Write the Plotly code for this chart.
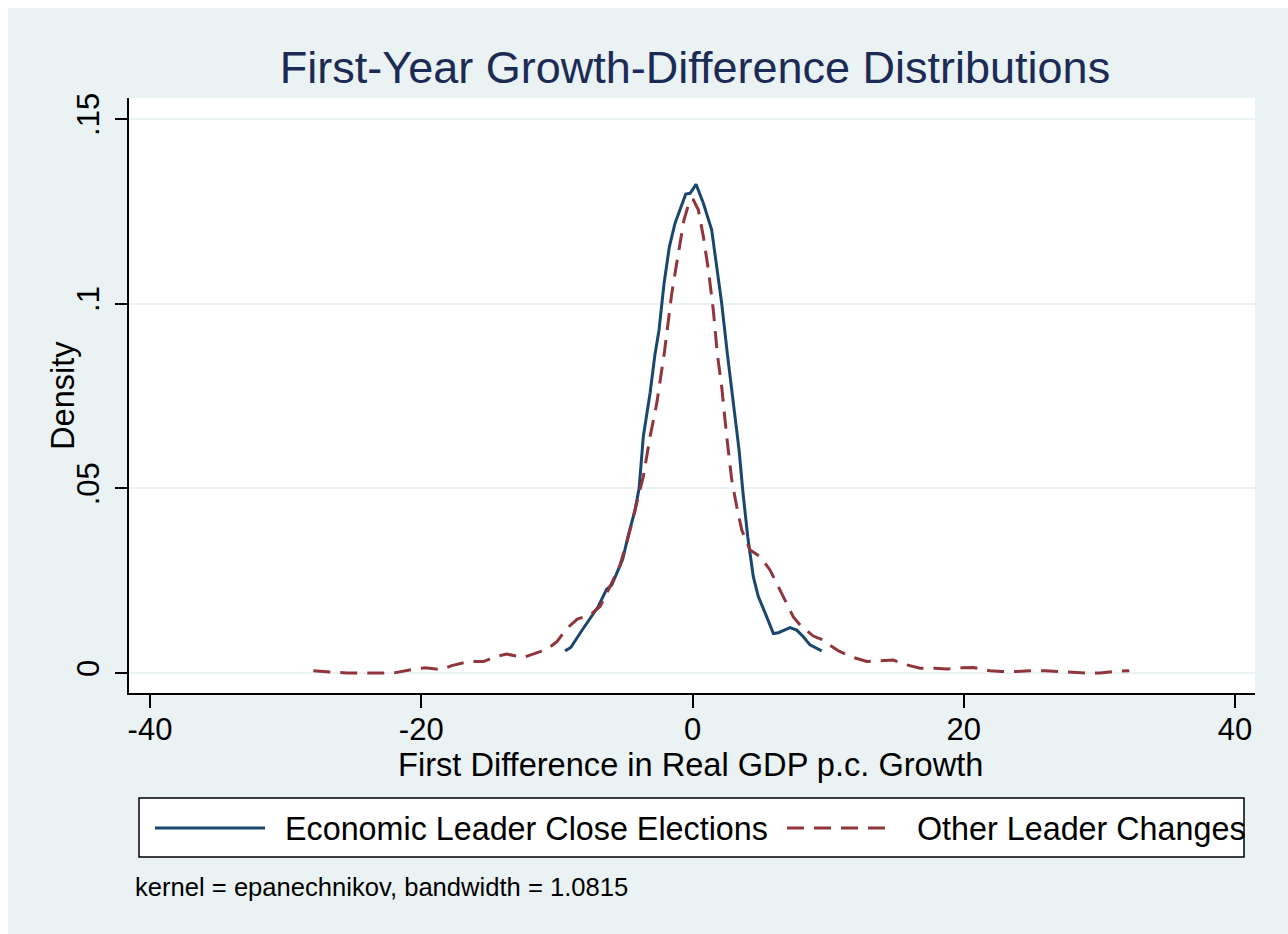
import plotly.graph_objects as go

# ---- data ----
close_x = [-9.4, -8.98, -8.05, -6.95, -6.33, -5.96, -5.15, -4.73, -4.24, -3.94, -3.8, -3.63, -3.13,
           -2.78, -2.47, -2.1, -1.71, -1.29, -0.5, -0.18, 0.26, 0.8, 1.41, 1.73, 2.15, 2.58, 3.0,
           3.43, 3.7, 4.07, 4.48, 4.85, 5.47, 5.96, 6.33, 7.19, 7.68, 8.17, 8.66, 9.52]
close_y = [0.0060, 0.0069, 0.0121, 0.0180, 0.0227, 0.0238, 0.0308, 0.0374, 0.0441, 0.0500, 0.0563,
           0.0640, 0.0758, 0.0860, 0.0929, 0.1055, 0.1154, 0.1218, 0.1297, 0.1299, 0.1323, 0.1272,
           0.1200, 0.1118, 0.1001, 0.0860, 0.0739, 0.0604, 0.0495, 0.0369, 0.0261, 0.0207, 0.0152,
           0.0107, 0.0109, 0.0123, 0.0116, 0.0098, 0.0076, 0.0060]

other_x = [-27.96, -26.7, -25.5, -23.0, -21.9, -20.6, -19.7, -18.5, -17.75, -16.5, -15.4, -14.56,
           -13.7, -12.48, -11.74, -11.24, -10.63, -10.0, -9.28, -8.5, -7.56, -6.82, -6.08, -5.35,
           -4.73, -4.11, -3.63, -3.13, -2.64, -2.07, -1.53, -1.05, -0.63, -0.18, 0.06, 0.43, 0.8,
           1.17, 1.53, 1.84, 2.15, 2.52, 2.89, 3.26, 3.63, 4.24, 4.98, 5.71, 6.45, 7.43, 7.93, 8.42,
           8.9, 9.65, 10.0, 10.8, 11.86, 12.85, 13.83, 14.8, 15.8, 16.77, 17.88, 18.74, 19.85, 20.7,
           21.94, 22.8, 23.9, 24.88, 26.0, 26.85, 28.08, 28.94, 30.05, 31.03, 32.2]
other_y = [0.0006, 0.0002, 0.0000, 0.0000, 0.0001, 0.0010, 0.0014, 0.0009, 0.0020, 0.0031, 0.0031,
           0.0044, 0.0051, 0.0042, 0.0051, 0.0058, 0.0067, 0.0085, 0.0120, 0.0146, 0.0157, 0.0180,
           0.0234, 0.0292, 0.0369, 0.0459, 0.0532, 0.0640, 0.0730, 0.0870, 0.1028, 0.1136, 0.1227,
           0.1283, 0.1281, 0.1254, 0.1181, 0.1091, 0.0983, 0.0860, 0.0775, 0.0640, 0.0523, 0.0450,
           0.0387, 0.0333, 0.0315, 0.0279, 0.0225, 0.0152, 0.0130, 0.0116, 0.0100, 0.0089, 0.0078,
           0.0059, 0.0042, 0.0031, 0.0033, 0.0035, 0.0022, 0.0013, 0.0013, 0.0011, 0.0014, 0.0015,
           0.0006, 0.0004, 0.0004, 0.0006, 0.0006, 0.0004, 0.0001, 0.0000, 0.0000, 0.0004, 0.0006]

x_ticks = [-40, -20, 0, 20, 40]
x_ticklabels = ["-40", "-20", "0", "20", "40"]
y_ticks = [0, 0.05, 0.1, 0.15]
y_ticklabels = ["0", ".05", ".1", ".15"]

series_names = ["Economic Leader Close Elections", "Other Leader Changes"]
title_text = "First-Year Growth-Difference Distributions"
x_title = "First Difference in Real GDP p.c. Growth"
y_title = "Density"
note_text = "kernel = epanechnikov, bandwidth = 1.0815"

# ---- style ----
W, H = 1288, 934
L, R, T, B = 129, 1255, 98, 693
BG = "#EAF2F3"
NAVY = "#1a476f"
MAROON = "#90353b"
FONT = "Liberation Sans, Arial, sans-serif"
DASH = "17px,10px"


def px2x(px):
    return (px - L) / (R - L)


def py2y(py):
    return (B - py) / (B - T)


fig = go.Figure()
fig.add_trace(go.Scatter(x=close_x, y=close_y, mode="lines", name=series_names[0],
                         line=dict(color=NAVY, width=3), showlegend=False))
fig.add_trace(go.Scatter(x=other_x, y=other_y, mode="lines", name=series_names[1],
                         line=dict(color=MAROON, width=3, dash=DASH), showlegend=False))

shapes = [
    # white strips at the top/left edge of the image
    dict(type="rect", xref="paper", yref="paper", x0=px2x(0), x1=px2x(W), y0=py2y(0), y1=py2y(8),
         fillcolor="white", line=dict(width=0), layer="below"),
    dict(type="rect", xref="paper", yref="paper", x0=px2x(0), x1=px2x(8), y0=py2y(0), y1=py2y(H),
         fillcolor="white", line=dict(width=0), layer="below"),
    # legend box
    dict(type="rect", xref="paper", yref="paper", x0=px2x(139), x1=px2x(1244), y0=py2y(857), y1=py2y(798),
         fillcolor="white", line=dict(color="black", width=1.5)),
    dict(type="line", xref="paper", yref="paper", x0=px2x(155), x1=px2x(265), y0=py2y(828), y1=py2y(828),
         line=dict(color=NAVY, width=3)),
    dict(type="line", xref="paper", yref="paper", x0=px2x(787), x1=px2x(891), y0=py2y(828), y1=py2y(828),
         line=dict(color=MAROON, width=3, dash=DASH)),
]

annotations = [
    dict(text=series_names[0], xref="paper", yref="paper", x=px2x(283), y=py2y(829), xanchor="left",
         yanchor="middle", showarrow=False, font=dict(size=32.3, color="black", family=FONT)),
    dict(text=series_names[1], xref="paper", yref="paper", x=px2x(915), y=py2y(829), xanchor="left",
         yanchor="middle", showarrow=False, font=dict(size=32.3, color="black", family=FONT)),
    dict(text=note_text, xref="paper", yref="paper", x=px2x(133), y=py2y(887), xanchor="left",
         yanchor="middle", showarrow=False, font=dict(size=25.6, color="black", family=FONT)),
    dict(text=x_title, xref="paper", yref="paper", x=px2x(690), y=py2y(764), xanchor="center",
         yanchor="middle", showarrow=False, font=dict(size=32.6, color="black", family=FONT)),
    dict(text=y_title, xref="paper", yref="paper", x=px2x(62), y=py2y(396), xanchor="center",
         yanchor="middle", textangle=-90, showarrow=False,
         font=dict(size=32.6, color="black", family=FONT)),
]

fig.update_layout(
    width=W, height=H,
    margin=dict(l=L, r=W - R, t=T, b=H - B, pad=0),
    paper_bgcolor=BG, plot_bgcolor="white",
    font=dict(family=FONT, color="black"),
    title=dict(text=title_text, x=695 / W, xanchor="center", xref="container",
               y=1 - 67 / H, yanchor="middle", yref="container",
               font=dict(size=45, color="#1c2b55", family=FONT)),
    shapes=shapes, annotations=annotations, showlegend=False,
    xaxis=dict(range=[-41.55, 41.47], tickvals=x_ticks, ticktext=x_ticklabels,
               showgrid=False, zeroline=False, showline=True, linecolor="black", linewidth=1.5,
               ticks="outside", ticklen=13, tickwidth=1.5, tickcolor="black",
               tickfont=dict(size=31, color="black"), ticklabelstandoff=-5),
    yaxis=dict(range=[-0.00542, 0.1557], tickvals=y_ticks, ticktext=y_ticklabels,
               showgrid=True, gridcolor=BG, gridwidth=2, zeroline=False,
               showline=True, linecolor="black", linewidth=1.5,
               ticks="outside", ticklen=12, tickwidth=1.5, tickcolor="black", tickangle=-90,
               tickfont=dict(size=31, color="black"), ticklabelstandoff=4),
)

fig.write_html("out.html")
